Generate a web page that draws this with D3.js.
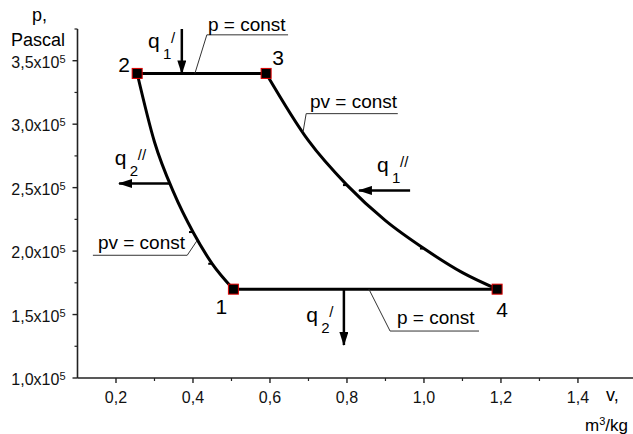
<!DOCTYPE html>
<html>
<head>
<meta charset="utf-8">
<script src="https://cdn.jsdelivr.net/npm/d3@7"></script>
<style>
  html, body { margin: 0; padding: 0; background: #fff; }
  svg { display: block; font-family: "Liberation Sans", Arial, sans-serif; }
</style>
</head>
<body>
<svg id="chart" width="633" height="434"></svg>
<script>
// Axis ticks (v in m3/kg, p in units of 1e5 Pa)
const vTicks = [0.2, 0.4, 0.6, 0.8, 1.0, 1.2, 1.4];
const vTickLabels = ["0,2", "0,4", "0,6", "0,8", "1,0", "1,2", "1,4"];
const vMinorTicks = [0.3, 0.5, 0.7, 0.9, 1.1, 1.3];
const pTicks = [1.0, 1.5, 2.0, 2.5, 3.0, 3.5];
const pTickLabels = ["1,0x10", "1,5x10", "2,0x10", "2,5x10", "3,0x10", "3,5x10"];
const pMinorTicks = [1.25, 1.75, 2.25, 2.75, 3.25, 3.75];

// Cycle state points
const stateIds = ["1", "2", "3", "4"];
const stateV = [0.505, 0.255, 0.59, 1.19];
const stateP = [1.70, 3.40, 3.40, 1.70];

// Isotherm 2-1 (pv = const, low temperature)
const isoLowV = [0.255, 0.30, 0.35, 0.40, 0.45, 0.505];
const isoLowP = [3.40, 2.86, 2.46, 2.15, 1.90, 1.70];
// Isotherm 3-4 (pv = const, high temperature)
const isoHighV = [0.59, 0.70, 0.80, 0.90, 1.00, 1.10, 1.19];
const isoHighP = [3.40, 2.87, 2.52, 2.24, 2.02, 1.83, 1.70];
// small vertex marks along the isotherms
const isoMarkV = [0.40, 0.45, 0.80, 1.00];
const isoMarkP = [2.15, 1.90, 2.52, 2.02];

const svg = d3.select("#chart");
const x = d3.scaleLinear().domain([0.1, 1.543]).range([77.5, 633]);
const y = d3.scaleLinear().domain([1.0, 3.75]).range([378, 29]);

// ---- axes ----
const axisColor = "#222";
const xAxisG = svg.append("g").attr("transform", `translate(0,${y(1.0)})`);
xAxisG.append("line").attr("x1", x(0.1)).attr("x2", 633).attr("stroke", axisColor).attr("stroke-width", 1.6);
xAxisG.selectAll(".maj").data(vTicks).join("line")
  .attr("x1", d => x(d)).attr("x2", d => x(d)).attr("y1", 0).attr("y2", 5)
  .attr("stroke", axisColor).attr("stroke-width", 1.4);
xAxisG.selectAll(".min").data(vMinorTicks).join("line")
  .attr("x1", d => x(d)).attr("x2", d => x(d)).attr("y1", 0).attr("y2", 3)
  .attr("stroke", axisColor).attr("stroke-width", 1.2);
xAxisG.selectAll("text").data(vTicks).join("text")
  .attr("x", d => x(d)).attr("y", 25).attr("text-anchor", "middle")
  .attr("font-size", 16).attr("fill", "#111")
  .text((d, i) => vTickLabels[i]);

const yAxisG = svg.append("g").attr("transform", `translate(${x(0.1)},0)`);
yAxisG.append("line").attr("y1", y(1.0)).attr("y2", y(3.75)).attr("stroke", axisColor).attr("stroke-width", 1.6);
yAxisG.selectAll(".maj").data(pTicks).join("line")
  .attr("y1", d => y(d)).attr("y2", d => y(d)).attr("x1", 0).attr("x2", -5)
  .attr("stroke", axisColor).attr("stroke-width", 1.4);
yAxisG.selectAll(".min").data(pMinorTicks).join("line")
  .attr("y1", d => y(d)).attr("y2", d => y(d)).attr("x1", 0).attr("x2", -3)
  .attr("stroke", axisColor).attr("stroke-width", 1.2);
const yLabels = yAxisG.selectAll("text").data(pTicks).join("text")
  .attr("x", -12).attr("y", d => y(d) + 7).attr("text-anchor", "end")
  .attr("font-size", 16).attr("fill", "#111");
yLabels.append("tspan").text((d, i) => pTickLabels[i]);
yLabels.append("tspan").attr("font-size", 11).attr("dy", -5).text("5");

// axis titles
svg.append("text").attr("x", 32).attr("y", 21).attr("font-size", 18).text("p,");
svg.append("text").attr("x", 11).attr("y", 46).attr("font-size", 18).text("Pascal");
svg.append("text").attr("x", 606).attr("y", 401).attr("font-size", 18).text("v,");
const unit = svg.append("text").attr("x", 585).attr("y", 431).attr("font-size", 17);
unit.append("tspan").text("m");
unit.append("tspan").attr("font-size", 11).attr("dy", -6).text("3");
unit.append("tspan").attr("dy", 6).text("/kg");

// ---- cycle ----
const cyc = svg.append("g").attr("fill", "none").attr("stroke", "#000").attr("stroke-width", 3);
const lineGen = d3.line().x(d => x(d[0])).y(d => y(d[1])).curve(d3.curveMonotoneX);
// isobars 2-3 and 1-4
cyc.append("path").attr("d", lineGen([[stateV[1], stateP[1]], [stateV[2], stateP[2]]]));
cyc.append("path").attr("d", lineGen([[stateV[0], stateP[0]], [stateV[3], stateP[3]]]));
// isotherms
cyc.append("path").attr("d", lineGen(isoLowV.map((v, i) => [v, isoLowP[i]])));
cyc.append("path").attr("d", lineGen(isoHighV.map((v, i) => [v, isoHighP[i]])));

svg.append("g").selectAll("rect").data(isoMarkV).join("rect")
  .attr("x", d => x(d) - 4).attr("y", (d, i) => y(isoMarkP[i]) - 1)
  .attr("width", 3).attr("height", 2).attr("fill", "#000");

// state markers
svg.append("g").selectAll("rect").data(stateV).join("rect")
  .attr("x", d => x(d) - 5).attr("y", (d, i) => y(stateP[i]) - 5)
  .attr("width", 10).attr("height", 10)
  .attr("fill", "#000").attr("stroke", "#e00000").attr("stroke-width", 1);

const idOffsets = { "1": [-12, 25], "2": [-13, -1], "3": [12, -8], "4": [5, 28] };
svg.append("g").selectAll("text").data(stateIds).join("text")
  .attr("x", (d, i) => x(stateV[i]) + idOffsets[d][0])
  .attr("y", (d, i) => y(stateP[i]) + idOffsets[d][1])
  .attr("text-anchor", "middle").attr("font-size", 21).text(d => d);

// ---- heat flow arrows ----
const defs = svg.append("defs");
defs.append("marker").attr("id", "head").attr("markerUnits", "userSpaceOnUse")
  .attr("markerWidth", 14).attr("markerHeight", 9).attr("refX", 13).attr("refY", 4.5)
  .attr("orient", "auto")
  .append("path").attr("d", "M0,0 L14,4.5 L0,9 Z").attr("fill", "#000");

const arrows = [
  { from: [0.371, 3.75], to: [0.371, 3.40] },   // q1'
  { from: [0.964, 2.478], to: [0.831, 2.478] }, // q1''
  { from: [0.340, 2.533], to: [0.208, 2.533] }, // q2''
  { from: [0.792, 1.70], to: [0.792, 1.26] }    // q2'
];
svg.append("g").selectAll("line").data(arrows).join("line")
  .attr("x1", d => x(d.from[0])).attr("y1", d => y(d.from[1]))
  .attr("x2", d => x(d.to[0])).attr("y2", d => y(d.to[1]))
  .attr("stroke", "#000").attr("stroke-width", 2.5).attr("marker-end", "url(#head)");

const qLabels = [
  { v: 0.283, p: 3.60, sub: "1", prime: "/" },
  { v: 0.878, p: 2.62, sub: "1", prime: "//" },
  { v: 0.197, p: 2.675, sub: "2", prime: "//" },
  { v: 0.694, p: 1.44, sub: "2", prime: "/" }
];
const qg = svg.append("g").selectAll("g").data(qLabels).join("g")
  .attr("transform", d => `translate(${x(d.v)},${y(d.p)})`);
qg.append("text").attr("font-size", 21).text("q");
qg.append("text").attr("x", 15).attr("y", 11).attr("font-size", 15).text(d => d.sub);
qg.append("text").attr("x", 23).attr("y", -5).attr("font-size", 15).text(d => d.prime);

// ---- leader notes ----
const notes = [
  { pts: [[0.405, 3.40], [0.436, 3.704], [0.647, 3.704]], text: "p = const", at: [0.439, 3.735] },
  { pts: [[0.686, 2.94], [0.694, 3.083], [0.932, 3.083]], text: "pv = const", at: [0.704, 3.131] },
  { pts: [[0.41, 2.08], [0.385, 1.967], [0.140, 1.967]], text: "pv = const", at: [0.153, 2.014] },
  { pts: [[0.857, 1.70], [0.912, 1.37], [1.143, 1.37]], text: "p = const", at: [0.930, 1.425] }
];
const ng = svg.append("g");
ng.selectAll("path").data(notes).join("path")
  .attr("d", d => d3.line().x(q => x(q[0])).y(q => y(q[1]))(d.pts))
  .attr("fill", "none").attr("stroke", "#333").attr("stroke-width", 1);
ng.selectAll("text").data(notes).join("text")
  .attr("x", d => x(d.at[0])).attr("y", d => y(d.at[1]))
  .attr("font-size", 19).attr("fill", "#000").text(d => d.text);
</script>
</body>
</html>
